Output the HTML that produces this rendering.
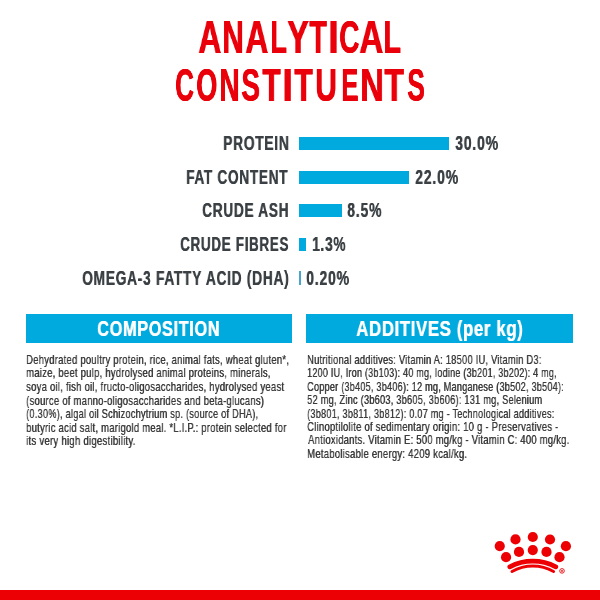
<!DOCTYPE html>
<html><head><meta charset="utf-8"><style>
html,body{margin:0;padding:0;background:#fff;width:600px;height:600px;overflow:hidden}
body{position:relative;font-family:"Liberation Sans",sans-serif}
.t{position:absolute;white-space:nowrap;transform-origin:0 0;will-change:transform}
.bar{position:absolute;background:#00aade}
.box{position:absolute;background:#00aade}
</style></head><body>
<div class="box" style="left:25.5px;top:314.2px;width:266.5px;height:28.4px"></div>
<div class="box" style="left:306px;top:314.2px;width:266.5px;height:28.4px"></div>
<div class="bar" style="left:299px;top:137px;width:150.00px;height:13.30px"></div><div class="bar" style="left:299px;top:170.7px;width:109.70px;height:13.30px"></div><div class="bar" style="left:299.2px;top:204.2px;width:42.60px;height:13.30px"></div><div class="bar" style="left:298.7px;top:238px;width:6.90px;height:13.00px"></div><div class="bar" style="left:298.7px;top:271.2px;width:2.30px;height:13.80px;background:#4aa5cc"></div>
<div class="t" style="left:197.79px;top:14.20px;font-size:46px;line-height:46px;font-weight:700;color:#e9000a;transform:scaleX(0.6921);text-shadow:0.5px 0 0 currentColor,1px 0 0 currentColor;">A</div><div class="t" style="left:222.41px;top:14.20px;font-size:46px;line-height:46px;font-weight:700;color:#e9000a;transform:scaleX(0.6488);text-shadow:0.5px 0 0 currentColor,1px 0 0 currentColor;">N</div><div class="t" style="left:245.39px;top:14.20px;font-size:46px;line-height:46px;font-weight:700;color:#e9000a;transform:scaleX(0.6921);text-shadow:0.5px 0 0 currentColor,1px 0 0 currentColor;">A</div><div class="t" style="left:270.28px;top:14.20px;font-size:46px;line-height:46px;font-weight:700;color:#e9000a;transform:scaleX(0.5905);text-shadow:0.5px 0 0 currentColor,1px 0 0 currentColor;">L</div><div class="t" style="left:286.67px;top:14.20px;font-size:46px;line-height:46px;font-weight:700;color:#e9000a;transform:scaleX(0.6967);text-shadow:0.5px 0 0 currentColor,1px 0 0 currentColor;">Y</div><div class="t" style="left:308.88px;top:14.20px;font-size:46px;line-height:46px;font-weight:700;color:#e9000a;transform:scaleX(0.6271);text-shadow:0.5px 0 0 currentColor,1px 0 0 currentColor;">T</div><div class="t" style="left:327.70px;top:14.20px;font-size:46px;line-height:46px;font-weight:700;color:#e9000a;transform:scaleX(0.7909);text-shadow:0.5px 0 0 currentColor,1px 0 0 currentColor;">I</div><div class="t" style="left:339.29px;top:14.20px;font-size:46px;line-height:46px;font-weight:700;color:#e9000a;transform:scaleX(0.6065);text-shadow:0.5px 0 0 currentColor,1px 0 0 currentColor;">C</div><div class="t" style="left:359.25px;top:14.20px;font-size:46px;line-height:46px;font-weight:700;color:#e9000a;transform:scaleX(0.7204);text-shadow:0.5px 0 0 currentColor,1px 0 0 currentColor;">A</div><div class="t" style="left:383.38px;top:14.20px;font-size:46px;line-height:46px;font-weight:700;color:#e9000a;transform:scaleX(0.6267);text-shadow:0.5px 0 0 currentColor,1px 0 0 currentColor;">L</div><div class="t" style="left:175.28px;top:61.70px;font-size:46px;line-height:46px;font-weight:700;color:#e9000a;transform:scaleX(0.5614);text-shadow:0.5px 0 0 currentColor,1px 0 0 currentColor;">C</div><div class="t" style="left:195.83px;top:61.70px;font-size:46px;line-height:46px;font-weight:700;color:#e9000a;transform:scaleX(0.5860);text-shadow:0.5px 0 0 currentColor,1px 0 0 currentColor;">O</div><div class="t" style="left:219.03px;top:61.70px;font-size:46px;line-height:46px;font-weight:700;color:#e9000a;transform:scaleX(0.6100);text-shadow:0.5px 0 0 currentColor,1px 0 0 currentColor;">N</div><div class="t" style="left:241.47px;top:61.70px;font-size:46px;line-height:46px;font-weight:700;color:#e9000a;transform:scaleX(0.6086);text-shadow:0.5px 0 0 currentColor,1px 0 0 currentColor;">S</div><div class="t" style="left:261.57px;top:61.70px;font-size:46px;line-height:46px;font-weight:700;color:#e9000a;transform:scaleX(0.6519);text-shadow:0.5px 0 0 currentColor,1px 0 0 currentColor;">T</div><div class="t" style="left:282.31px;top:61.70px;font-size:46px;line-height:46px;font-weight:700;color:#e9000a;transform:scaleX(0.8226);text-shadow:0.5px 0 0 currentColor,1px 0 0 currentColor;">I</div><div class="t" style="left:294.37px;top:61.70px;font-size:46px;line-height:46px;font-weight:700;color:#e9000a;transform:scaleX(0.6590);text-shadow:0.5px 0 0 currentColor,1px 0 0 currentColor;">T</div><div class="t" style="left:315.02px;top:61.70px;font-size:46px;line-height:46px;font-weight:700;color:#e9000a;transform:scaleX(0.6497);text-shadow:0.5px 0 0 currentColor,1px 0 0 currentColor;">U</div><div class="t" style="left:340.87px;top:61.70px;font-size:46px;line-height:46px;font-weight:700;color:#e9000a;transform:scaleX(0.5587);text-shadow:0.5px 0 0 currentColor,1px 0 0 currentColor;">E</div><div class="t" style="left:360.26px;top:61.70px;font-size:46px;line-height:46px;font-weight:700;color:#e9000a;transform:scaleX(0.7017);text-shadow:0.5px 0 0 currentColor,1px 0 0 currentColor;">N</div><div class="t" style="left:384.15px;top:61.70px;font-size:46px;line-height:46px;font-weight:700;color:#e9000a;transform:scaleX(0.7015);text-shadow:0.5px 0 0 currentColor,1px 0 0 currentColor;">T</div><div class="t" style="left:406.93px;top:61.70px;font-size:46px;line-height:46px;font-weight:700;color:#e9000a;transform:scaleX(0.5736);text-shadow:0.5px 0 0 currentColor,1px 0 0 currentColor;">S</div><div class="t" style="left:222.78px;top:134.00px;font-size:19.4px;line-height:19.4px;font-weight:700;letter-spacing:1.0px;color:#3b4044;transform:scaleX(0.7122);text-shadow:0.5px 0 0 currentColor;">PROTEIN</div><div class="t" style="left:186.39px;top:167.70px;font-size:19.4px;line-height:19.4px;font-weight:700;letter-spacing:1.0px;color:#3b4044;transform:scaleX(0.7019);text-shadow:0.5px 0 0 currentColor;">FAT CONTENT</div><div class="t" style="left:201.65px;top:201.30px;font-size:19.4px;line-height:19.4px;font-weight:700;letter-spacing:1.0px;color:#3b4044;transform:scaleX(0.7048);text-shadow:0.5px 0 0 currentColor;">CRUDE ASH</div><div class="t" style="left:179.86px;top:235.00px;font-size:19.4px;line-height:19.4px;font-weight:700;letter-spacing:1.0px;color:#3b4044;transform:scaleX(0.6920);text-shadow:0.5px 0 0 currentColor;">CRUDE FIBRES</div><div class="t" style="left:81.74px;top:268.50px;font-size:19.4px;line-height:19.4px;font-weight:700;letter-spacing:1.0px;color:#3b4044;transform:scaleX(0.7098);text-shadow:0.5px 0 0 currentColor;">OMEGA-3 FATTY ACID (DHA)</div><div class="t" style="left:455.21px;top:134.00px;font-size:19.4px;line-height:19.4px;font-weight:700;letter-spacing:1.0px;color:#3b4044;transform:scaleX(0.7284);text-shadow:0.5px 0 0 currentColor;">30.0%</div><div class="t" style="left:414.83px;top:167.70px;font-size:19.4px;line-height:19.4px;font-weight:700;letter-spacing:1.0px;color:#3b4044;transform:scaleX(0.7298);text-shadow:0.5px 0 0 currentColor;">22.0%</div><div class="t" style="left:347.34px;top:201.30px;font-size:19.4px;line-height:19.4px;font-weight:700;letter-spacing:1.0px;color:#3b4044;transform:scaleX(0.7276);text-shadow:0.5px 0 0 currentColor;">8.5%</div><div class="t" style="left:311.83px;top:235.00px;font-size:19.4px;line-height:19.4px;font-weight:700;letter-spacing:1.0px;color:#3b4044;transform:scaleX(0.7067);text-shadow:0.5px 0 0 currentColor;">1.3%</div><div class="t" style="left:306.15px;top:268.50px;font-size:19.4px;line-height:19.4px;font-weight:700;letter-spacing:1.0px;color:#3b4044;transform:scaleX(0.7276);text-shadow:0.5px 0 0 currentColor;">0.20%</div><div class="t" style="left:97.37px;top:318.30px;font-size:22px;line-height:22px;font-weight:700;letter-spacing:0.8px;color:#fff;transform:scaleX(0.7441);text-shadow:0.6px 0 0 currentColor;">COMPOSITION</div><div class="t" style="left:356.25px;top:318.40px;font-size:22px;line-height:22px;font-weight:700;letter-spacing:0.8px;color:#fff;transform:scaleX(0.7648);text-shadow:0.6px 0 0 currentColor;">ADDITIVES (per kg)</div><div class="t" style="left:26.13px;top:353.80px;font-size:12.6px;line-height:12.6px;font-weight:400;letter-spacing:0.3px;color:#3c3c3c;transform:scaleX(0.7541);text-shadow:0.35px 0 0 currentColor;">Dehydrated poultry protein, rice, animal fats, wheat gluten*,</div><div class="t" style="left:26.21px;top:367.38px;font-size:12.6px;line-height:12.6px;font-weight:400;letter-spacing:0.3px;color:#3c3c3c;transform:scaleX(0.7552);text-shadow:0.35px 0 0 currentColor;">maize, beet pulp, hydrolysed animal proteins, minerals,</div><div class="t" style="left:26.43px;top:380.96px;font-size:12.6px;line-height:12.6px;font-weight:400;letter-spacing:0.3px;color:#3c3c3c;transform:scaleX(0.7555);text-shadow:0.35px 0 0 currentColor;">soya oil, fish oil, fructo-oligosaccharides, hydrolysed yeast</div><div class="t" style="left:26.25px;top:394.54px;font-size:12.6px;line-height:12.6px;font-weight:400;letter-spacing:0.3px;color:#3c3c3c;transform:scaleX(0.7542);text-shadow:0.35px 0 0 currentColor;">(source of manno-oligosaccharides and beta-glucans)</div><div class="t" style="left:26.26px;top:408.12px;font-size:12.6px;line-height:12.6px;font-weight:400;letter-spacing:0.3px;color:#3c3c3c;transform:scaleX(0.7337);text-shadow:0.35px 0 0 currentColor;">(0.30%), algal oil Schizochytrium sp. (source of DHA),</div><div class="t" style="left:26.25px;top:421.70px;font-size:12.6px;line-height:12.6px;font-weight:400;letter-spacing:0.3px;color:#3c3c3c;transform:scaleX(0.7537);text-shadow:0.35px 0 0 currentColor;">butyric acid salt, marigold meal. *L.I.P.: protein selected for</div><div class="t" style="left:26.22px;top:435.28px;font-size:12.6px;line-height:12.6px;font-weight:400;letter-spacing:0.3px;color:#3c3c3c;transform:scaleX(0.7644);text-shadow:0.35px 0 0 currentColor;">its very high digestibility.</div><div class="t" style="left:307.15px;top:354.00px;font-size:12.6px;line-height:12.6px;font-weight:400;letter-spacing:0.3px;color:#3c3c3c;transform:scaleX(0.7412);text-shadow:0.35px 0 0 currentColor;">Nutritional additives: Vitamin A: 18500 IU, Vitamin D3:</div><div class="t" style="left:307.19px;top:367.41px;font-size:12.6px;line-height:12.6px;font-weight:400;letter-spacing:0.3px;color:#3c3c3c;transform:scaleX(0.7179);text-shadow:0.35px 0 0 currentColor;">1200 IU, Iron (3b103): 40 mg, Iodine (3b201, 3b202): 4 mg,</div><div class="t" style="left:307.37px;top:380.82px;font-size:12.6px;line-height:12.6px;font-weight:400;letter-spacing:0.3px;color:#3c3c3c;transform:scaleX(0.7256);text-shadow:0.35px 0 0 currentColor;">Copper (3b405, 3b406): 12 mg, Manganese (3b502, 3b504):</div><div class="t" style="left:307.30px;top:394.23px;font-size:12.6px;line-height:12.6px;font-weight:400;letter-spacing:0.3px;color:#3c3c3c;transform:scaleX(0.7339);text-shadow:0.35px 0 0 currentColor;">52 mg, Zinc (3b603, 3b605, 3b606): 131 mg, Selenium</div><div class="t" style="left:307.27px;top:407.64px;font-size:12.6px;line-height:12.6px;font-weight:400;letter-spacing:0.3px;color:#3c3c3c;transform:scaleX(0.7273);text-shadow:0.35px 0 0 currentColor;">(3b801, 3b811, 3b812): 0.07 mg - Technological additives:</div><div class="t" style="left:307.35px;top:421.05px;font-size:12.6px;line-height:12.6px;font-weight:400;letter-spacing:0.3px;color:#3c3c3c;transform:scaleX(0.7549);text-shadow:0.35px 0 0 currentColor;">Clinoptilolite of sedimentary origin: 10 g - Preservatives -</div><div class="t" style="left:307.66px;top:434.46px;font-size:12.6px;line-height:12.6px;font-weight:400;letter-spacing:0.3px;color:#3c3c3c;transform:scaleX(0.7525);text-shadow:0.35px 0 0 currentColor;">Antioxidants. Vitamin E: 500 mg/kg - Vitamin C: 400 mg/kg.</div><div class="t" style="left:307.13px;top:447.87px;font-size:12.6px;line-height:12.6px;font-weight:400;letter-spacing:0.3px;color:#3c3c3c;transform:scaleX(0.7576);text-shadow:0.35px 0 0 currentColor;">Metabolisable energy: 4209 kcal/kg.</div>
<svg width="600" height="600" style="position:absolute;left:0;top:0" viewBox="0 0 600 600">
<g fill="#ec0004"><circle cx="499.75" cy="546.1" r="5.1"/><circle cx="515.5" cy="539.45" r="5.1"/><circle cx="532.8" cy="537.0" r="5.1"/><circle cx="550.0" cy="539.5" r="5.1"/><circle cx="565.9" cy="546.2" r="5.1"/><circle cx="506.05" cy="557.15" r="5.1"/><circle cx="519.0" cy="551.9" r="5.1"/><circle cx="532.8" cy="550.1" r="5.1"/><circle cx="546.5" cy="551.9" r="5.1"/><circle cx="559.5" cy="557.15" r="5.1"/></g>
<path d="M509.8,566.8 A50,50 0 0 1 555.8,566.8" fill="none" stroke="#ec0004" stroke-width="4.7" stroke-linecap="round"/>
<path d="M512.0,571.5 A41.5,41.5 0 0 1 553.6,571.5" fill="none" stroke="#ec0004" stroke-width="3.0" stroke-linecap="round"/>
<circle cx="562" cy="570.9" r="2.3" fill="none" stroke="#ec0004" stroke-width="0.9"/>
<circle cx="562" cy="570.9" r="0.9" fill="#ec0004"/>
</svg>
<div style="position:absolute;left:0;top:589.8px;width:600px;height:10.2px;background:#ec0004"></div>
</body></html>
